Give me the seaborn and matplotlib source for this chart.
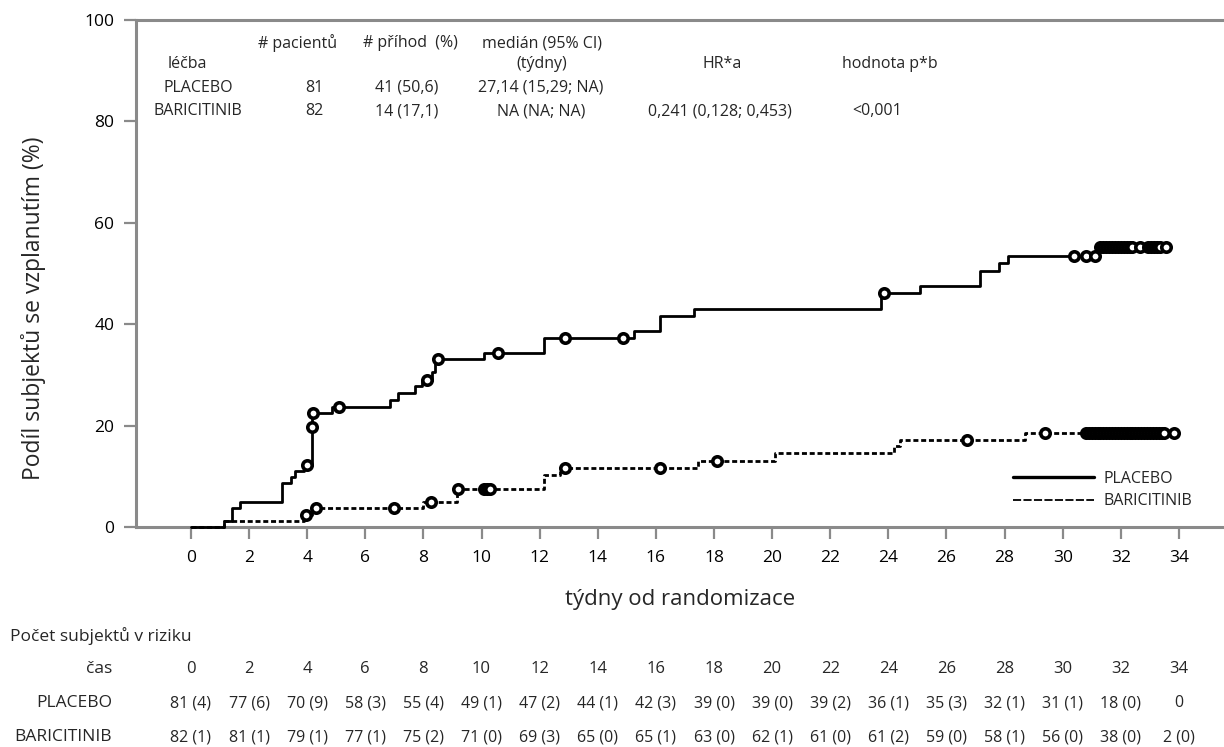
import numpy as np
import pandas as pd
import matplotlib
matplotlib.use("Agg")
import matplotlib.pyplot as plt
import matplotlib.transforms as mtransforms
from matplotlib.lines import Line2D
import seaborn as sns

# ---------------- data ----------------
placebo_step_t = [0, 1.13, 1.40, 1.68, 3.15, 3.46, 3.57, 3.90, 4.15, 4.17, 4.87, 6.86, 7.12,
                  7.70, 7.95, 8.30, 8.40, 10.10, 12.14, 15.26, 16.14, 17.30, 23.75, 25.10,
                  27.16, 27.80, 28.10, 31.20, 33.56]
placebo_step_y = [0, 1.2, 3.7, 4.9, 8.6, 9.9, 11.1, 12.3, 19.8, 22.4, 23.7, 25.0, 26.4,
                  27.8, 29.0, 30.5, 33.1, 34.4, 37.2, 38.7, 41.6, 43.0, 46.1, 47.6,
                  50.5, 52.1, 53.5, 55.3, 55.3]
placebo_cens_t = [4.0, 4.15, 4.2, 5.1, 8.13, 8.5, 10.55, 12.86, 14.86, 23.85, 30.4, 30.8, 31.1,
                  31.3, 31.4, 31.5, 31.6, 31.7, 31.8, 31.9, 32.0, 32.1, 32.2, 32.3, 32.4,
                  32.65, 32.95, 33.05, 33.15, 33.25, 33.35, 33.55]

barici_step_t = [0, 1.13, 3.90, 4.15, 8.00, 9.15, 12.14, 12.70, 17.45, 20.10, 24.20, 24.40,
                 28.70, 33.84]
barici_step_y = [0, 1.2, 2.45, 3.66, 5.0, 7.5, 10.3, 11.6, 13.1, 14.5, 16.0, 17.2, 18.6, 18.6]
barici_cens_t = [3.96, 4.32, 7.0, 8.25, 9.18, 10.1, 10.2, 10.3, 12.86, 16.14, 18.1, 26.7, 29.4,
                 30.8, 30.9, 31.0, 31.1, 31.2, 31.3, 31.4, 31.5, 31.6, 31.7, 31.8, 31.9,
                 32.0, 32.1, 32.2, 32.3, 32.4, 32.5, 32.6, 32.7, 32.8, 32.9, 33.0, 33.1,
                 33.2, 33.3, 33.4, 33.5, 33.84]

risk_times = [0, 2, 4, 6, 8, 10, 12, 14, 16, 18, 20, 22, 24, 26, 28, 30, 32, 34]
placebo_n = [81, 77, 70, 58, 55, 49, 47, 44, 42, 39, 39, 39, 36, 35, 32, 31, 18, 0]
placebo_ev = [4, 6, 9, 3, 4, 1, 2, 1, 3, 0, 0, 2, 1, 3, 1, 1, 0, None]
barici_n = [82, 81, 79, 77, 75, 71, 69, 65, 65, 63, 62, 61, 61, 59, 58, 56, 38, 2]
barici_ev = [1, 1, 1, 1, 2, 0, 3, 0, 1, 0, 1, 0, 2, 0, 1, 0, 0, 0]

treatments = ["PLACEBO", "BARICITINIB"]
n_patients = [81, 82]
n_events = ["41 (50,6)", "14 (17,1)"]
medians = ["27,14 (15,29; NA)", "NA (NA; NA)"]
hr_text = "0,241 (0,128; 0,453)"
p_text = "<0,001"

y_ticks = [0, 20, 40, 60, 80, 100]
x_ticks = list(range(0, 35, 2))

# ---------------- style ----------------
sns.set_theme(style="white")
plt.rcParams['font.family'] = ['Open Sans', 'DejaVu Sans']

W, H = 1224, 747
fig = plt.figure(figsize=(W / 100, H / 100), dpi=100)
ax = fig.add_axes([136 / W, 1 - 527 / H, 1 - 136 / W, (527 - 20) / H])

def fx(x):
    return x / W

def fy(y):
    return 1 - y / H

pl = pd.DataFrame({"t": placebo_step_t, "y": placebo_step_y})
ba = pd.DataFrame({"t": barici_step_t, "y": barici_step_y})

sns.lineplot(data=pl, x="t", y="y", ax=ax, estimator=None, sort=False,
             drawstyle="steps-post", color="black", lw=2.0, zorder=3, clip_on=False)
sns.lineplot(data=ba, x="t", y="y", ax=ax, estimator=None, sort=False,
             drawstyle="steps-post", color="black", lw=2.0, zorder=3, clip_on=False)
ax.lines[-1].set_linestyle((0, (1.8, 1.0)))

def level_at(step_t, step_y, t):
    idx = np.searchsorted(np.asarray(step_t), np.asarray(t), side="right") - 1
    return np.asarray(step_y)[idx]

pc = pd.DataFrame({"t": placebo_cens_t,
                   "y": level_at(placebo_step_t, placebo_step_y, placebo_cens_t)})
bc = pd.DataFrame({"t": barici_cens_t,
                   "y": level_at(barici_step_t, barici_step_y, barici_cens_t)})
for d in (pc, bc):
    sns.scatterplot(data=d, x="t", y="y", ax=ax, marker="o", s=46,
                    facecolor="white", edgecolor="black", linewidth=2.6, zorder=5)

ax.set_xlim(-1.89, 35.55)
ax.set_ylim(0, 100)
ax.set_xticks(x_ticks)
ax.set_yticks(y_ticks)
ax.tick_params(axis="both", colors="#8a8a8a", length=8.5, width=1.6, labelsize=12.5,
               labelcolor="black")
ax.tick_params(axis="y", pad=7)
ax.tick_params(axis="x", pad=8)
for s in ["left", "bottom", "top"]:
    ax.spines[s].set_color("#8a8a8a")
    ax.spines[s].set_linewidth(2.2)
ax.spines["right"].set_visible(False)
ax.tick_params(left=True, bottom=True)

ax.set_xlabel("týdny od randomizace", fontsize=16)
ax.xaxis.set_label_coords(0.5, (527 - 600) / 507)
ax.xaxis.label.set_va("center")
ax.set_ylabel("Podíl subjektů se vzplanutím (%)", fontsize=16.5)
ax.yaxis.set_label_coords((34 - 136) / 1088, (527 - 308) / 507)
ax.yaxis.label.set_va("center")

# legend
handles = [Line2D([], [], color="black", lw=2.4),
           Line2D([], [], color="black", lw=1.3, linestyle=(0, (4.5, 1.3)))]
ax.legend(handles, treatments, loc="upper left", bbox_to_anchor=(fx(1013), fy(471)),
          bbox_transform=fig.transFigure, frameon=False, fontsize=11.5,
          handlelength=5.1, handletextpad=0.55, labelspacing=0.4,
          borderpad=0, borderaxespad=0)

# header table
hfs = 11.5
fig.text(fx(298), fy(43), "# pacientů", ha="center", va="center", fontsize=hfs)
fig.text(fx(410), fy(43), "# příhod  (%)", ha="center", va="center", fontsize=hfs)
fig.text(fx(542), fy(43), "medián (95% CI)", ha="center", va="center", fontsize=hfs)
fig.text(fx(187), fy(64), "léčba", ha="center", va="center", fontsize=hfs)
fig.text(fx(542), fy(64), "(týdny)", ha="center", va="center", fontsize=hfs)
fig.text(fx(722), fy(64), "HR*a", ha="center", va="center", fontsize=hfs)
fig.text(fx(890), fy(64), "hodnota p*b", ha="center", va="center", fontsize=hfs)
for i, yy in enumerate([88, 111]):
    fig.text(fx(198), fy(yy), treatments[i], ha="center", va="center", fontsize=hfs)
    fig.text(fx(314), fy(yy), str(n_patients[i]), ha="center", va="center", fontsize=hfs)
    fig.text(fx(407), fy(yy), n_events[i], ha="center", va="center", fontsize=hfs)
    fig.text(fx(541), fy(yy), medians[i], ha="center", va="center", fontsize=hfs)
fig.text(fx(720), fy(111), hr_text, ha="center", va="center", fontsize=hfs)
fig.text(fx(877), fy(111), p_text, ha="center", va="center", fontsize=hfs)

# risk table
rfs = 11.5
lfs = 12.5
trans = mtransforms.blended_transform_factory(ax.transData, fig.transFigure)
fig.text(fx(10), fy(636), "Počet subjektů v riziku", ha="left", va="center", fontsize=lfs)
fig.text(fx(112), fy(669), "čas", ha="right", va="center", fontsize=lfs)
fig.text(fx(112), fy(703), "PLACEBO", ha="right", va="center", fontsize=lfs)
fig.text(fx(112), fy(737), "BARICITINIB", ha="right", va="center", fontsize=lfs)

def cell(n, e):
    return f"{n}" if e is None else f"{n} ({e})"

for i, t in enumerate(risk_times):
    ax.text(t, fy(669), str(t), transform=trans, ha="center", va="center", fontsize=rfs + 0.5)
    ax.text(t, fy(703), cell(placebo_n[i], placebo_ev[i]), transform=trans,
            ha="center", va="center", fontsize=rfs)
    ax.text(t, fy(737), cell(barici_n[i], barici_ev[i]), transform=trans,
            ha="center", va="center", fontsize=rfs)

fig.savefig("out.png", dpi=100)
